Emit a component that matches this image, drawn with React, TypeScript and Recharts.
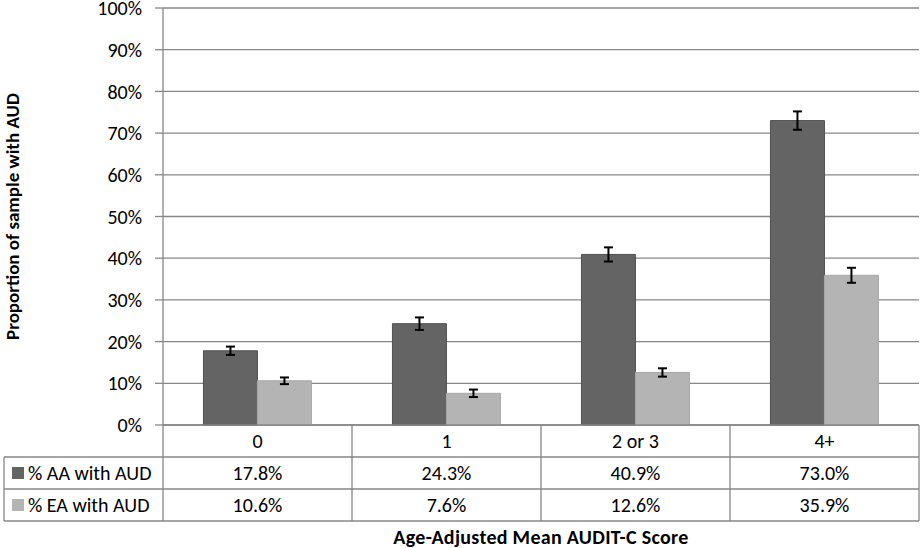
import React from "react";
import { BarChart, Bar, XAxis, YAxis, CartesianGrid, ErrorBar, Label } from "recharts";

// values
const categories = ["0", "1", "2 or 3", "4+"];
const aaValues = [17.8, 24.3, 40.9, 73.0];
const eaValues = [10.6, 7.6, 12.6, 35.9];
const aaErrors = [1.0, 1.5, 1.7, 2.2];
const eaErrors = [0.8, 0.9, 1.0, 1.8];
const yTicks = [0, 10, 20, 30, 40, 50, 60, 70, 80, 90, 100];

const seriesNames = ["% AA with AUD", "% EA with AUD"];
const labelsAA = ["17.8%", "24.3%", "40.9%", "73.0%"];
const labelsEA = ["10.6%", "7.6%", "12.6%", "35.9%"];

const data = categories.map((c, i) => ({
  name: c,
  aa: aaValues[i],
  ea: eaValues[i],
  aaErr: aaErrors[i],
  eaErr: eaErrors[i],
}));

const FONT = "Carlito, Calibri, Lato, sans-serif";
const GRID = "#878787";
const AA_FILL = "#646464";
const EA_FILL = "#b4b4b4";
const ROW_H = 32;
const TABLE_LEFT = 4;
const FS = 20;

// one column of the data table under each category, plus the legend cells for the first one
const TableTick = (props: any) => {
  const { x, y, payload, index } = props;
  const half = payload && payload.offset > 0 ? payload.offset : 94.5;
  const left = x - half;
  const right = x + half;
  const top = y;
  const lines = [top + ROW_H, top + ROW_H * 2, top + ROW_H * 3];
  const txt = { fontFamily: FONT, fontSize: FS, fill: "#000", textAnchor: "middle" as const };
  return (
    <g>
      {index === 0 && (
        <g>
          <line x1={left} y1={top} x2={left} y2={lines[2]} stroke={GRID} strokeWidth={1.3} />
          <line x1={TABLE_LEFT} y1={lines[0]} x2={left} y2={lines[0]} stroke={GRID} strokeWidth={1.3} />
          <line x1={TABLE_LEFT} y1={lines[1]} x2={left} y2={lines[1]} stroke={GRID} strokeWidth={1.3} />
          <line x1={TABLE_LEFT} y1={lines[2]} x2={left} y2={lines[2]} stroke={GRID} strokeWidth={1.3} />
          <line x1={TABLE_LEFT} y1={lines[0]} x2={TABLE_LEFT} y2={lines[2]} stroke={GRID} strokeWidth={1.3} />
          <rect x={12} y={lines[0] + 10} width={12} height={12} fill={AA_FILL} />
          <rect x={12} y={lines[1] + 10} width={12} height={12} fill={EA_FILL} />
          <text x={28} y={lines[0] + 23} style={{ fontFamily: FONT, fontSize: FS }} fill="#000">
            {seriesNames[0]}
          </text>
          <text x={28} y={lines[1] + 23} style={{ fontFamily: FONT, fontSize: FS }} fill="#000">
            {seriesNames[1]}
          </text>
        </g>
      )}
      <line x1={right} y1={top} x2={right} y2={lines[2]} stroke={GRID} strokeWidth={1.3} />
      <line x1={left} y1={lines[0]} x2={right} y2={lines[0]} stroke={GRID} strokeWidth={1.3} />
      <line x1={left} y1={lines[1]} x2={right} y2={lines[1]} stroke={GRID} strokeWidth={1.3} />
      <line x1={left} y1={lines[2]} x2={right} y2={lines[2]} stroke={GRID} strokeWidth={1.3} />
      <text x={x} y={top + 23} style={txt}>{payload.value}</text>
      <text x={x} y={lines[0] + 23} style={txt}>{labelsAA[index]}</text>
      <text x={x} y={lines[1] + 23} style={txt}>{labelsEA[index]}</text>
    </g>
  );
};

export default function App() {
  return (
    <div style={{ position: "absolute", left: 0, top: 0, background: "#fff" }}>
      <BarChart
        width={921}
        height={548}
        data={data}
        margin={{ top: 8, right: 2, left: 4, bottom: 27 }}
        barGap={0}
        barCategoryGap="21.4%"
      >
        <CartesianGrid vertical={false} stroke={GRID} strokeWidth={1.3} />
        <XAxis
          dataKey="name"
          height={96}
          tickLine={false}
          tickSize={0}
          tickMargin={0}
          axisLine={{ stroke: GRID, strokeWidth: 1.3 }}
          tick={(p: any) => <TableTick {...p} />}
          interval={0}
        >
          <Label
            value="Age-Adjusted Mean AUDIT-C Score"
            position="insideBottom"
            offset={-23}
            style={{ fontFamily: FONT, fontSize: 20, fontWeight: "bold", fill: "#000", letterSpacing: 0.3 }}
          />
        </XAxis>
        <YAxis
          width={159}
          domain={[0, 100]}
          ticks={yTicks}
          interval={0}
          tickFormatter={(v: number) => `${v}%`}
          tickSize={8}
          tickMargin={13}
          tickLine={{ stroke: GRID, strokeWidth: 1.3 }}
          axisLine={{ stroke: GRID, strokeWidth: 1.3 }}
          tick={{ fontFamily: FONT, fontSize: FS, fill: "#000" }}
        >
          <Label
            value="Proportion of sample with AUD"
            angle={-90}
            position="insideLeft"
            offset={8}
            style={{ fontFamily: FONT, fontSize: 19, fontWeight: "bold", fill: "#000", textAnchor: "middle" }}
          />
        </YAxis>
        <Bar dataKey="aa" fill={AA_FILL} stroke="#505050" strokeWidth={1} isAnimationActive={false}>
          <ErrorBar dataKey="aaErr" width={4.5} stroke="#000" strokeWidth={2} direction="y" />
        </Bar>
        <Bar dataKey="ea" fill={EA_FILL} stroke="#a8a8a8" strokeWidth={1} isAnimationActive={false}>
          <ErrorBar dataKey="eaErr" width={4.5} stroke="#000" strokeWidth={2} direction="y" />
        </Bar>
      </BarChart>
    </div>
  );
}
